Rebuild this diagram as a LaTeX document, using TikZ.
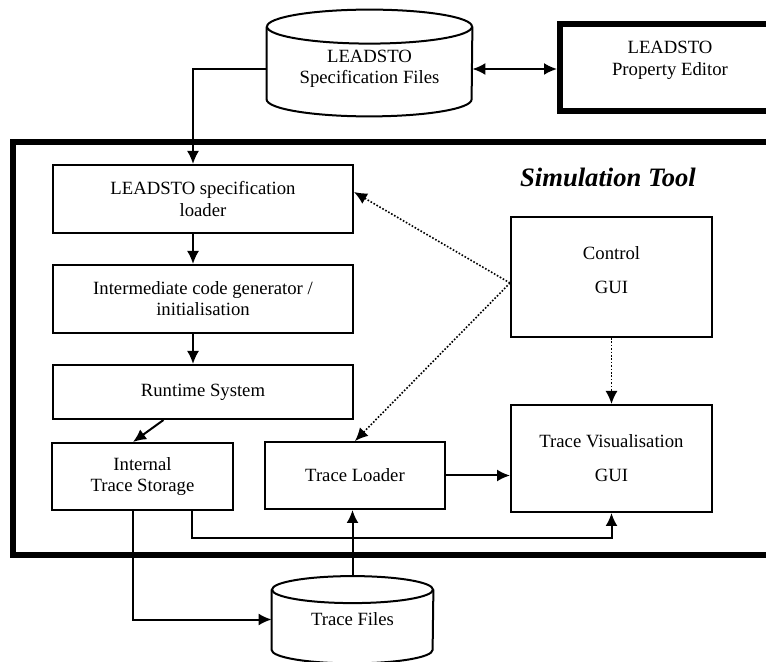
\documentclass[tikz,border=0pt]{standalone}
\usepackage{fontspec}
\setmainfont{Liberation Serif}
\usetikzlibrary{arrows.meta,positioning}
\tikzset{
  font=\fontsize{9.35}{10.6}\selectfont,
  box/.style={
    draw,
    line width=1pt,
    align=center,
    inner sep=2pt
  },
  store/.style={
    align=center,
    inner sep=2pt
  },
  pipe/.style={
    draw,
    line width=1pt
  },
  framebox/.style={
    draw,
    line width=3pt
  },
  editorbox/.style={
    draw,
    line width=3pt
  },
  title/.style={
    font=\fontsize{13.3}{16}\selectfont\bfseries\itshape
  },
  arrow/.style={
    -{Latex[length=6.5pt,width=6pt]},
    line width=1pt
  },
  twoway/.style={
    {Latex[length=6.5pt,width=6pt]}-{Latex[length=6.5pt,width=6pt]},
    line width=1pt
  },
  dotarrow/.style={
    -{Latex[length=6.5pt,width=6pt]},
    line width=0.8pt,
    dash pattern=on 0.8pt off 0.9pt
  }
}

\begin{document}
\begin{tikzpicture}[x=0.5pt, y=-0.5pt]
\useasboundingbox (0,0) rectangle (766,662);
\clip (0,0) rectangle (766,662);

% Simulation tool frame
\node[framebox, minimum width=388.5pt, minimum height=206.5pt] (simframe) at (401.5,348.5) {};
\node[title] (simtitle) at (608,177) {Simulation Tool};

% Left column
\node[box, minimum width=150pt, minimum height=34pt] (loader) at (203,199)
  {LEADSTO specification\\loader};
\node[box, minimum width=150pt, minimum height=34pt, below=15pt of loader] (codegen)
  {Intermediate code generator /\\initialisation};
\node[box, minimum width=150pt, minimum height=27pt, below=15pt of codegen] (runtime)
  {Runtime System};
\node[box, minimum width=90.5pt, minimum height=33.5pt] (storage) at (142.5,476.5)
  {Internal\\Trace Storage};
\node[box, minimum width=90pt, minimum height=33.5pt] (traceloader) at (355,475.5)
  {Trace Loader};

% GUIs
\node[box, minimum width=100.5pt, minimum height=60pt] (control) at (611.5,277)
  {Control\\[6.5pt]GUI\\[-4pt]\mbox{}};
\node[box, minimum width=100.5pt, minimum height=53.5pt, below=33pt of control] (tracevis)
  {Trace Visualisation\\[6.5pt]GUI};

% Outside the tool
\node[editorbox, minimum width=110pt, minimum height=43.75pt,
  label={[name=editorlabel, align=center, yshift=3.75pt]center:LEADSTO\\Property Editor}]
  (editor) at (670,67.75) {};

\node[store, minimum width=102.5pt, minimum height=47pt] (specfiles) at (369.5,69)
  {LEADSTO\\Specification Files};
\draw[pipe] ([yshift=-2.5pt]specfiles.north) ellipse [x radius=51.25pt, y radius=8.5pt];
\draw[pipe] ([yshift=-2.5pt]specfiles.north west) -- ([yshift=8.5pt]specfiles.south west)
  arc [start angle=180, end angle=360, x radius=51.25pt, y radius=8.5pt]
  -- ([yshift=-2.5pt]specfiles.north east);

\node[store, minimum width=80.5pt, minimum height=43.5pt] (tracefiles) at (352.5,619.5)
  {Trace Files};
\draw[pipe] ([yshift=-7pt]tracefiles.north) ellipse [x radius=40.25pt, y radius=6.75pt];
\draw[pipe] ([yshift=-7pt]tracefiles.north west) -- ([yshift=6.75pt]tracefiles.south west)
  arc [start angle=180, end angle=360, x radius=40.25pt, y radius=6.75pt]
  -- ([yshift=-7pt]tracefiles.north east);

% Flow
\draw[twoway] (specfiles.east) -- (specfiles.east -| editor.west);
\draw[arrow] (specfiles.west) -| ([xshift=-5pt]loader.north);
\draw[arrow] ([xshift=-5pt]loader.south) -- ([xshift=-5pt]codegen.north);
\draw[arrow] ([xshift=-5pt]codegen.south) -- ([xshift=-5pt]runtime.north);
\draw[arrow] ([xshift=-19.75pt]runtime.south) -- ([xshift=-4.75pt]storage.north);
\draw[arrow] ([xshift=-4.75pt]storage.south) |- (tracefiles.west);
\draw[arrow] ([xshift=24.75pt]storage.south) -- ++(0,27) -| (tracevis.south);
\draw[arrow] (tracefiles.north) -- (tracefiles.north |- traceloader.south);
\draw[arrow] (traceloader.east) -- (traceloader.east -| tracevis.west);

% Control links
\draw[dotarrow] ([yshift=-3pt]control.west) -- ([yshift=3.5pt]loader.east);
\draw[dotarrow] ([yshift=-3pt]control.west) -- (traceloader.north);
\draw[dotarrow] (control.south) -- (tracevis.north);

\end{tikzpicture}
\end{document}
